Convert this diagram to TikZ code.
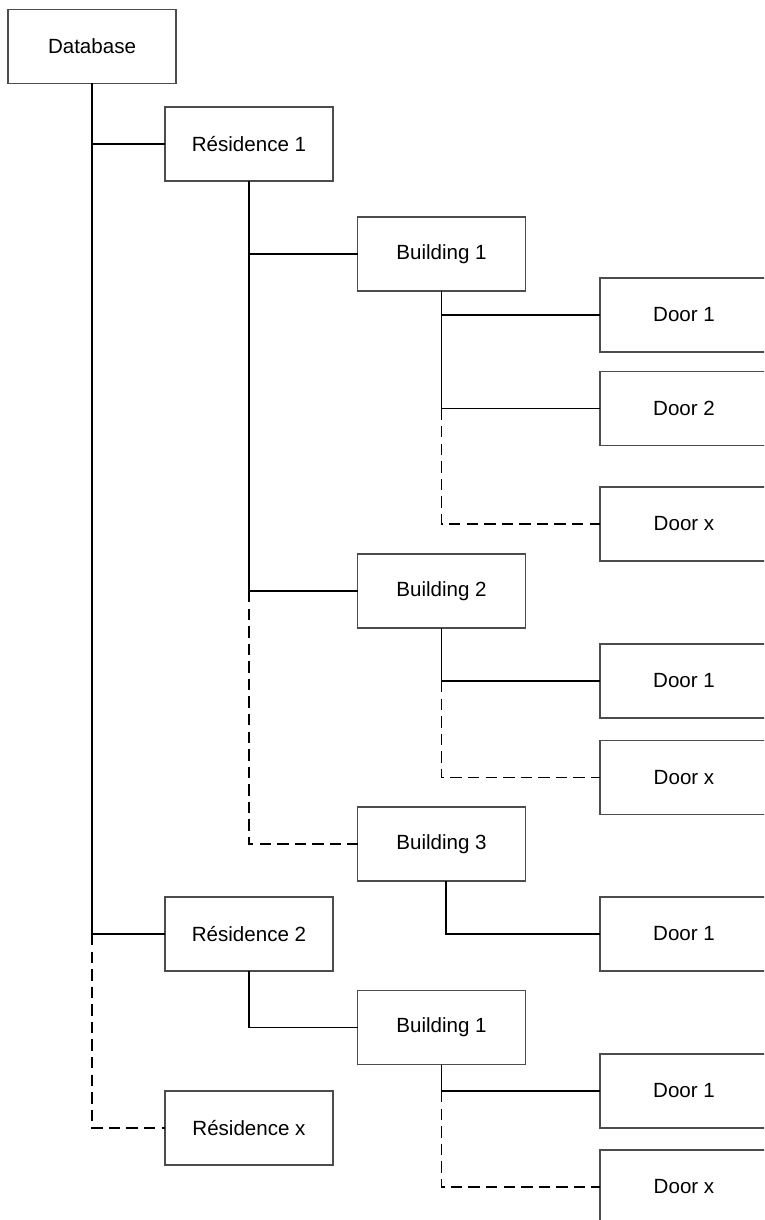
\documentclass[tikz,border=0pt]{standalone}
\usepackage{fontspec}
\setmainfont{Liberation Sans}
\usepackage{tikz}
\usetikzlibrary{positioning}

\begin{document}
\begin{tikzpicture}[
    x=0.02cm, y=-0.02cm,
    every node/.style={rectangle, draw=black!70, line width=0.6pt, minimum width=3.36cm,
      minimum height=1.48cm, inner sep=0pt, outer sep=0pt, font=\fontsize{11.7}{14}\selectfont},
    link/.style={draw=black, line width=1pt},
    maybe/.style={link, dash pattern=on 6.5pt off 3.5pt},
  ]
  \useasboundingbox (0,0) rectangle (764,1220);
  \clip (0,0) rectangle (764,1220);

  \node (db)  at (92, 46.5)    {Database};
  \node (r1)  at (249, 144)    {Résidence 1};
  \node (b1)  at (441.5, 254)  {Building 1};
  \node (d11) at (684, 315)    {Door 1};
  \node (d12) at (684, 408.5)  {Door 2};
  \node (d1x) at (684, 524)    {Door x};
  \node (b2)  at (441.5, 591)  {Building 2};
  \node (d21) at (684, 681)    {Door 1};
  \node (d2x) at (684, 777.5)  {Door x};
  \node (b3)  at (441.5, 844)  {Building 3};
  \node (d31) at (684, 934)    {Door 1};
  \node (r2)  at (249, 934)    {Résidence 2};
  \node (b4)  at (441.5, 1027.5) {Building 1};
  \node (d41) at (684, 1091)   {Door 1};
  \node (d4x) at (684, 1187)   {Door x};
  \node (rx)  at (249, 1128)   {Résidence x};

  % database
  \draw[link] (db) |- (r1);
  \draw[link] (db) |- (r2);
  \draw[maybe] (db.south |- r2.west) |- (rx);

  % residence 1
  \draw[link] (r1) |- (b1);
  \draw[link] (r1) |- (b2);
  \draw[maybe] (r1.south |- b2.west) |- (b3);

  % building 1
  \draw[link] (b1) |- (d11);
  \draw[link] (b1) |- (d12);
  \draw[maybe] (b1.south |- d12.west) |- (d1x);

  % building 2
  \draw[link] (b2) |- (d21);
  \draw[maybe] (b2.south |- d21.west) |- (d2x);

  % building 3
  \draw[link] ([xshift=0.09cm]b3.south) |- (d31);

  % residence 2
  \draw[link] (r2) |- (b4);
  \draw[link] (b4) |- (d41);
  \draw[maybe] (b4.south |- d41.west) |- (d4x);

\end{tikzpicture}
\end{document}
